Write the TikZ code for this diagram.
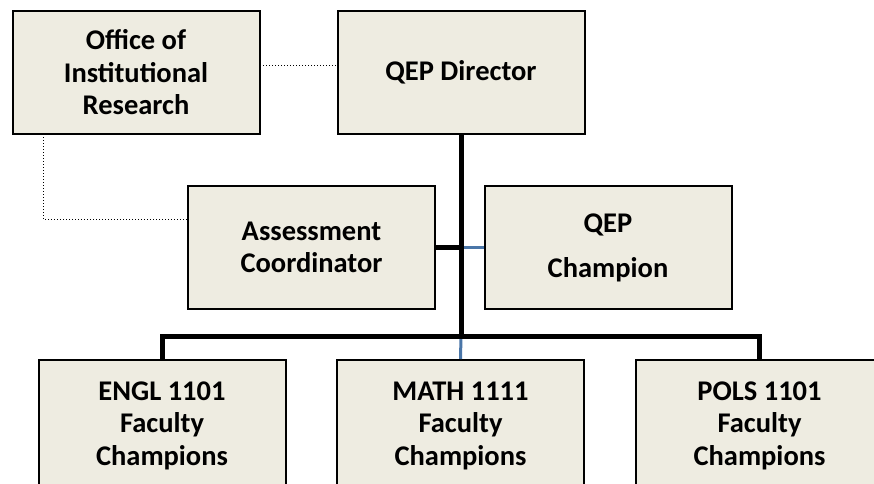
\documentclass[tikz,border=0pt]{standalone}
\usepackage{fontspec}
\setmainfont{Carlito}
\definecolor{boxfill}{HTML}{EEECE1}
\definecolor{linkblue}{HTML}{4A76A8}
\tikzset{
  orgbox/.style={draw=black, line width=2pt, fill=boxfill, minimum width=247pt, minimum height=123pt, inner sep=0pt, align=center, font=\bfseries\fontsize{28.5}{32.5}\selectfont},
  thickline/.style={draw=black, line width=5pt},
  blueline/.style={draw=linkblue, line width=3pt},
  dotline/.style={draw=black, line width=1pt, dotted}
}
\begin{document}
\begin{tikzpicture}[x=1pt, y=-1pt]
\useasboundingbox (0,0) rectangle (874,483);
\clip (0,0) rectangle (874,483);
\fill[white] (0,0) rectangle (874,483);
% boxes
\node[orgbox] (oir) at (136,72.5) {Office of\\Institutional\\Research};
\node[orgbox] (dir) at (461,72.5) {QEP Director};
\node[orgbox] (ac) at (311.5,247.5) {Assessment\\Coordinator};
\node[orgbox, font=\bfseries\fontsize{28.5}{45}\selectfont] (qc) at (608,247.5) {QEP\\Champion};
\node[orgbox, minimum height=131pt] (engl) at (162,425.5) {ENGL 1101\\Faculty\\Champions};
\node[orgbox, minimum height=131pt] (math) at (460.5,425.5) {MATH 1111\\Faculty\\Champions};
\node[orgbox, minimum height=131pt] (pols) at (759.5,425.5) {POLS 1101\\Faculty\\Champions};
% coordinates
\coordinate (trunk) at (461,336);
\coordinate (mid) at (461,247.5);
\coordinate (oirdrop) at (43,134);
\coordinate (oircorner) at (43,219);
\coordinate (oirright) at (260,65);
% blue links
\draw[blueline] (mid) -- (qc.west);
\draw[blueline] (trunk) -- (math.north);
% black links
\draw[thickline] (ac.east) -- (mid);
\draw[thickline] (dir.south) -- (trunk);
\draw[thickline, line join=miter] (engl.north) |- (trunk) -| (pols.north);
% dotted links
\draw[dotline] (oirright) -- (oirright -| dir.west);
\draw[dotline] (oirdrop) -- (oircorner) -- (oircorner -| ac.west);
\end{tikzpicture}
\end{document}
